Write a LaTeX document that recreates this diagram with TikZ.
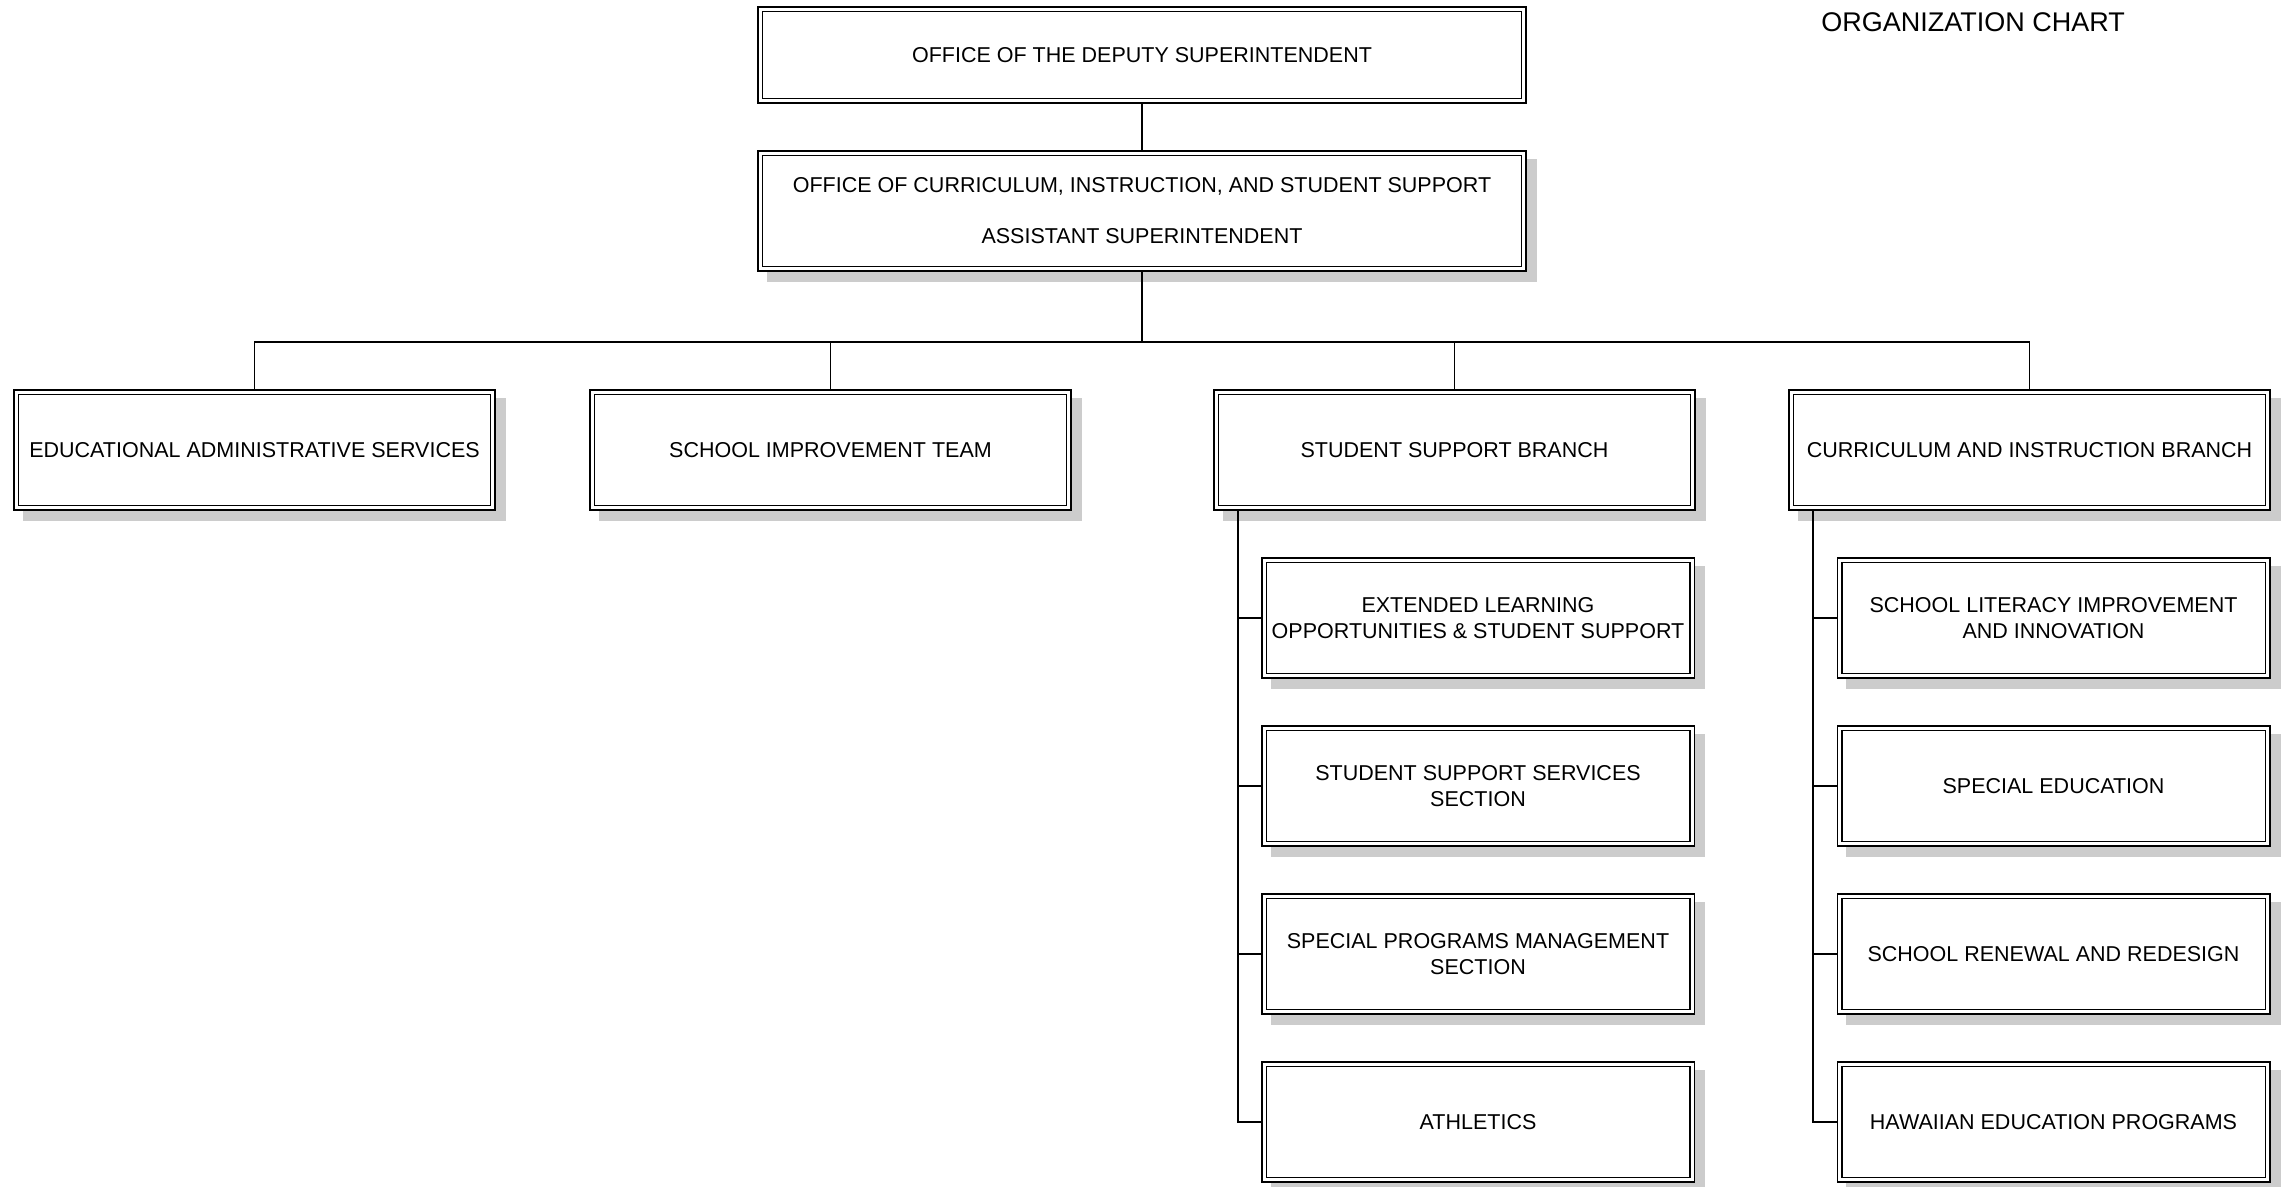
\documentclass[tikz,border=0pt]{standalone}
\usepackage{fontspec}
\setmainfont{Liberation Sans}
\usetikzlibrary{calc,backgrounds}
\definecolor{shadowgray}{RGB}{204,204,204}
\tikzset{
  orgbox/.style={draw=black, double=white, double distance=3pt, line width=1.5pt,
    fill=white, inner sep=0pt, outer sep=2.25pt, align=center,
    font=\fontsize{21.5}{26}\selectfont},
  topbox/.style={orgbox, minimum width=763.5pt, minimum height=91.5pt},
  secbox/.style={orgbox, minimum width=763.5pt, minimum height=115.5pt},
  rowbox/.style={orgbox, minimum width=476.5pt, minimum height=115.5pt},
  subbox/.style={orgbox, minimum width=428pt, minimum height=115.5pt},
  conn/.style={draw=black, line width=1.5pt},
  shadowfill/.style={fill=shadowgray}
}
\begin{document}
\begin{tikzpicture}[x=1pt,y=-1pt]
\useasboundingbox (0,0) rectangle (2285,1186);

\node[anchor=base, font=\fontsize{27}{31}\selectfont] (title) at (1973,31) {ORGANIZATION CHART};

\node[topbox] (top) at (1142,55) {OFFICE OF THE DEPUTY SUPERINTENDENT};
\node[secbox] (sec) at (1142,211) {OFFICE OF CURRICULUM, INSTRUCTION, AND STUDENT SUPPORT\\[25pt]ASSISTANT SUPERINTENDENT};

\node[rowbox] (eas) at (254.5,450) {EDUCATIONAL ADMINISTRATIVE SERVICES};
\node[rowbox] (sit) at (830.5,450) {SCHOOL IMPROVEMENT TEAM};
\node[rowbox] (ssb) at (1454.5,450) {STUDENT SUPPORT BRANCH};
\node[rowbox] (cib) at (2029.5,450) {CURRICULUM AND INSTRUCTION BRANCH};

\node[subbox] (s1) at (1478,618) {EXTENDED LEARNING\\OPPORTUNITIES \& STUDENT SUPPORT};
\node[subbox] (s2) at (1478,786) {STUDENT SUPPORT SERVICES\\SECTION};
\node[subbox] (s3) at (1478,954) {SPECIAL PROGRAMS MANAGEMENT\\SECTION};
\node[subbox] (s4) at (1478,1122) {ATHLETICS};

\node[subbox] (c1) at (2053.5,618) {SCHOOL LITERACY IMPROVEMENT\\AND INNOVATION};
\node[subbox] (c2) at (2053.5,786) {SPECIAL EDUCATION};
\node[subbox] (c3) at (2053.5,954) {SCHOOL RENEWAL AND REDESIGN};
\node[subbox] (c4) at (2053.5,1122) {HAWAIIAN EDUCATION PROGRAMS};

\begin{scope}[on background layer]
\foreach \n in {sec,eas,sit,ssb,cib,s1,s2,s3,s4,c1,c2,c3,c4}
  \fill[shadowfill] ($(\n.north west)+(9,8)$) rectangle ($(\n.south east)+(11,11)$);
\end{scope}

\coordinate (bus) at (1142,342);
\coordinate (sv) at (1238,510);
\coordinate (cv) at (1813,510);

\draw[conn] (top.south) -- (sec.north);
\draw[conn] (sec.south) -- (bus);
\draw[conn] (eas.north) -- (eas.north |- bus) -- (cib.north |- bus) -- (cib.north);
\draw[conn] (sit.north) -- (sit.north |- bus);
\draw[conn] (ssb.north) -- (ssb.north |- bus);

\draw[conn] (sv) |- (s4.west);
\draw[conn] (sv |- s1.west) -- (s1.west);
\draw[conn] (sv |- s2.west) -- (s2.west);
\draw[conn] (sv |- s3.west) -- (s3.west);

\draw[conn] (cv) |- (c4.west);
\draw[conn] (cv |- c1.west) -- (c1.west);
\draw[conn] (cv |- c2.west) -- (c2.west);
\draw[conn] (cv |- c3.west) -- (c3.west);
\end{tikzpicture}
\end{document}
